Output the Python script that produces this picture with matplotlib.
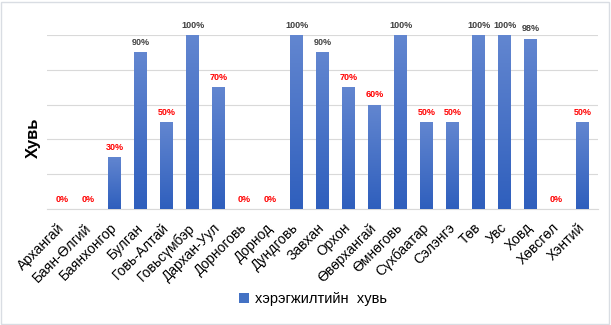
import numpy as np
import matplotlib.pyplot as plt
from matplotlib.patches import Rectangle

aimags = ["Архангай", "Баян-Өлгий", "Баянхонгор", "Булган", "Говь-Алтай",
          "Говьсүмбэр", "Дархан-Уул", "Дорноговь", "Дорнод", "Дундговь",
          "Завхан", "Орхон", "Өвөрхангай", "Өмнөговь", "Сүхбаатар", "Сэлэнгэ",
          "Төв", "Увс", "Ховд", "Хөвсгөл", "Хэнтий"]
huvi = [0, 0, 30, 90, 50, 100, 70, 0, 0, 100, 90, 70, 60, 100, 50, 50,
        100, 100, 98, 0, 50]

plt.rcParams['font.family'] = ['Liberation Sans', 'DejaVu Sans']

fig = plt.figure(figsize=(6.11, 3.25), dpi=100)
ax = fig.add_axes([0.077, 0.357, 0.902, 0.535])

x = np.arange(len(aimags))
bars = ax.bar(x, huvi, width=0.5, color="#4472C4", label="хэрэгжилтийн  хувь", zorder=2)

# vertical gradient inside each bar
grad = np.linspace(0, 1, 100).reshape(-1, 1)
cmap = plt.matplotlib.colors.LinearSegmentedColormap.from_list("g", ["#2f5fbd", "#6286d0"])
for b in bars:
    if b.get_height() <= 0:
        continue
    im = ax.imshow(grad, cmap=cmap, aspect="auto", origin="lower",
                   extent=[b.get_x(), b.get_x() + b.get_width(), 0, b.get_height()],
                   zorder=3)
    im.set_clip_path(b)

for xi, v in zip(x, huvi):
    col = "#404040" if v >= 90 else "#ff0000"
    ax.text(xi, v + 3, f"{v}%", ha="center", va="bottom", fontsize=6.5,
            fontweight="bold", color=col, zorder=4)

ax.set_xlim(-0.6, len(aimags) - 0.4)
ax.set_ylim(0, 100)
ax.set_yticks(np.arange(0, 101, 20))
ax.set_yticklabels([])
ax.tick_params(axis="y", length=0)
ax.tick_params(axis="x", length=0, pad=12)
ax.grid(axis="y", color="#d9d9d9", linewidth=0.8, zorder=0)
ax.set_axisbelow(True)
for s in ["top", "right", "left"]:
    ax.spines[s].set_visible(False)
ax.spines["bottom"].set_color("#d9d9d9")

ax.set_xticks(x)
ax.set_xticklabels(aimags, rotation=45, ha="right", va="center", rotation_mode="anchor",
                   fontsize=10, color="#000000")
ax.set_ylabel("Хувь", fontsize=12, fontweight="bold")
ax.yaxis.set_label_coords(-0.011, 0.41)

ax.legend(loc="center", bbox_to_anchor=(0.483, -0.52), frameon=False,
          fontsize=10.5, handlelength=0.7, handleheight=0.7, handletextpad=0.4)

fig.patches.append(Rectangle((0.002, 0.003), 0.995, 0.992, transform=fig.transFigure,
                             fill=False, edgecolor="#d9dde3", linewidth=1))

fig.savefig("out.png", dpi=100)
